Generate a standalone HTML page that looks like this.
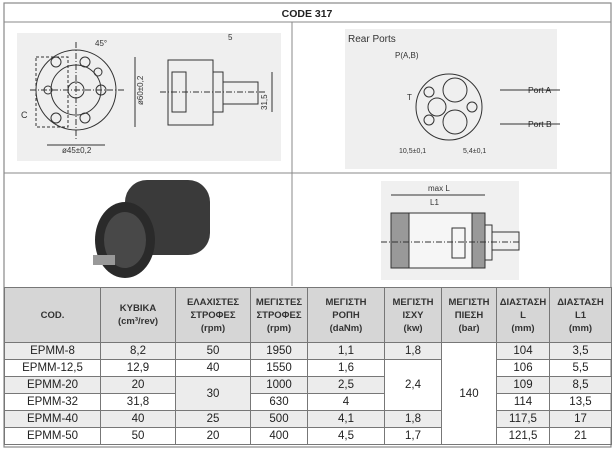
<!DOCTYPE html>
<html><head><meta charset="utf-8"><style>
body{margin:0;background:#fff;width:614px;height:450px;position:relative;font-family:"Liberation Sans",sans-serif;overflow:hidden}
svg{position:absolute;left:0;top:0}
table{position:absolute;left:4px;top:287px;width:607px;table-layout:fixed;border-collapse:collapse;font-family:"Liberation Sans","DejaVu Sans",sans-serif;font-size:11.5px;color:#222}
td{border:1px solid #777;text-align:center;padding:0;height:16px;overflow:hidden;white-space:nowrap}
tr.h td{background:#d6d6d6;height:54px;font-size:9.5px;font-weight:bold;line-height:13px;color:#333}
tr.g td{background:#ececec}
td.w{background:#fff!important}
</style></head><body>
<svg width="614" height="450" viewBox="0 0 614 450" font-family="Liberation Sans, sans-serif">
<rect x="4" y="3" width="607" height="444" fill="none" stroke="#888" stroke-width="1.2"/>
<line x1="4" y1="22" x2="611" y2="22" stroke="#888"/>
<line x1="4" y1="173" x2="611" y2="173" stroke="#888"/>
<line x1="292" y1="22" x2="292" y2="286" stroke="#888"/>
<text x="307" y="17" font-size="10.5" font-weight="bold" text-anchor="middle" fill="#222">CODE 317</text>
<rect x="17" y="33" width="264" height="128" fill="#efefef"/>
<g stroke="#333" fill="none" stroke-width="1">
<circle cx="76" cy="90" r="40"/><circle cx="76" cy="90" r="25"/><circle cx="76" cy="90" r="8"/>
<rect x="36" y="57" width="32" height="70" stroke-dasharray="3,2"/>
<circle cx="85" cy="62" r="5"/><circle cx="101" cy="90" r="5"/><circle cx="85" cy="118" r="5"/><circle cx="56" cy="62" r="5"/><circle cx="56" cy="118" r="5"/><circle cx="48" cy="90" r="4"/><circle cx="98" cy="72" r="4"/>
<line x1="30" y1="90" x2="125" y2="90" stroke-dasharray="6,2,1,2"/><line x1="76" y1="42" x2="76" y2="140" stroke-dasharray="6,2,1,2"/>
<line x1="135" y1="57" x2="135" y2="127"/><line x1="47" y1="145" x2="105" y2="145"/>
<rect x="168" y="60" width="45" height="65"/><rect x="213" y="72" width="10" height="40"/><rect x="223" y="82" width="35" height="22"/><rect x="172" y="72" width="14" height="40"/>
<line x1="160" y1="92" x2="265" y2="92" stroke-dasharray="6,2,1,2"/><line x1="272" y1="72" x2="272" y2="112"/>
</g>
<text x="62" y="153" font-size="8" fill="#333">ø45±0,2</text>
<text x="143" y="105" font-size="8" fill="#333" transform="rotate(-90 143 105)">ø60±0,2</text>
<text x="267" y="110" font-size="8" fill="#333" transform="rotate(-90 267 110)">31,5</text>
<text x="95" y="46" font-size="8" fill="#333">45°</text><text x="21" y="118" font-size="9" fill="#333">C</text><text x="228" y="40" font-size="8" fill="#333">5</text>
<rect x="345" y="29" width="212" height="140" fill="#efefef"/>
<text x="348" y="42" font-size="10" fill="#333">Rear Ports</text>
<text x="395" y="58" font-size="8" fill="#333">P(A,B)</text><text x="407" y="100" font-size="8" fill="#333">T</text>
<g stroke="#333" fill="none"><circle cx="449" cy="107" r="33"/><circle cx="455" cy="90" r="12"/><circle cx="455" cy="122" r="12"/><circle cx="437" cy="107" r="9"/><circle cx="472" cy="107" r="5"/><circle cx="429" cy="92" r="5"/><circle cx="429" cy="120" r="5"/>
<line x1="500" y1="90" x2="560" y2="90"/><line x1="500" y1="124" x2="560" y2="124"/></g>
<text x="528" y="93" font-size="8.5" fill="#222">Port A</text><text x="528" y="127" font-size="8.5" fill="#222">Port B</text>
<text x="399" y="153" font-size="7" fill="#333">10,5±0,1</text><text x="463" y="153" font-size="7" fill="#333">5,4±0,1</text>
<rect x="125" y="180" width="85" height="75" rx="22" fill="#3a3a3a"/>
<ellipse cx="125" cy="240" rx="30" ry="38" fill="#2a2a2a"/>
<ellipse cx="125" cy="240" rx="21" ry="28" fill="#484848"/>
<rect x="93" y="255" width="22" height="10" fill="#999"/>
<rect x="381" y="181" width="138" height="99" fill="#f0f0f0"/>
<text x="428" y="191" font-size="8" fill="#333">max L</text><text x="430" y="205" font-size="8" fill="#333">L1</text>
<g stroke="#333" fill="none"><line x1="391" y1="195" x2="485" y2="195"/>
<rect x="391" y="213" width="94" height="55" fill="#f6f6f6"/><rect x="391" y="213" width="18" height="55" fill="#999"/><rect x="472" y="213" width="13" height="55" fill="#999"/>
<rect x="452" y="228" width="13" height="30"/><rect x="485" y="225" width="7" height="35"/><rect x="492" y="232" width="27" height="18"/>
<line x1="381" y1="242" x2="519" y2="242" stroke-dasharray="6,2,1,2"/></g>
</svg>
<table>
<colgroup><col style="width:96px"><col style="width:75px"><col style="width:75px"><col style="width:57px"><col style="width:77px"><col style="width:57px"><col style="width:55px"><col style="width:53px"><col style="width:62px"></colgroup>
<tr class="h"><td>COD.</td><td>ΚΥΒΙΚΑ<br>(cm³/rev)</td><td>ΕΛΑΧΙΣΤΕΣ<br>ΣΤΡΟΦΕΣ<br>(rpm)</td><td>ΜΕΓΙΣΤΕΣ<br>ΣΤΡΟΦΕΣ<br>(rpm)</td><td>ΜΕΓΙΣΤΗ<br>ΡΟΠΗ<br>(daNm)</td><td>ΜΕΓΙΣΤΗ<br>ΙΣΧΥ<br>(kw)</td><td>ΜΕΓΙΣΤΗ<br>ΠΙΕΣΗ<br>(bar)</td><td>ΔΙΑΣΤΑΣΗ<br>L<br>(mm)</td><td>ΔΙΑΣΤΑΣΗ<br>L1<br>(mm)</td></tr>
<tr class="g"><td>EPMM-8</td><td>8,2</td><td>50</td><td>1950</td><td>1,1</td><td>1,8</td><td rowspan="6" class="w">140</td><td>104</td><td>3,5</td></tr>
<tr><td>EPMM-12,5</td><td>12,9</td><td>40</td><td>1550</td><td>1,6</td><td rowspan="3">2,4</td><td>106</td><td>5,5</td></tr>
<tr class="g"><td>EPMM-20</td><td>20</td><td rowspan="2">30</td><td>1000</td><td>2,5</td><td>109</td><td>8,5</td></tr>
<tr><td>EPMM-32</td><td>31,8</td><td>630</td><td>4</td><td>114</td><td>13,5</td></tr>
<tr class="g"><td>EPMM-40</td><td>40</td><td>25</td><td>500</td><td>4,1</td><td>1,8</td><td>117,5</td><td>17</td></tr>
<tr><td>EPMM-50</td><td>50</td><td>20</td><td>400</td><td>4,5</td><td>1,7</td><td>121,5</td><td>21</td></tr>
</table>
</body></html>
